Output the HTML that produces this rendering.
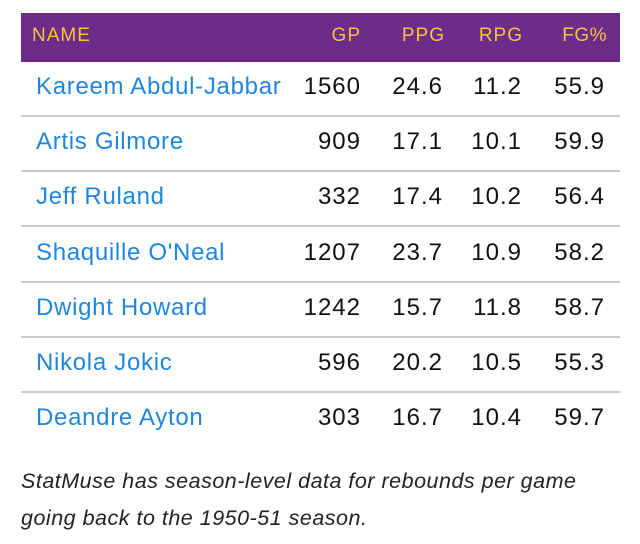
<!DOCTYPE html>
<html><head><style>
body{margin:0;width:640px;height:544px;background:#fff;font-family:"Liberation Sans",sans-serif;position:relative;overflow:hidden}
.hd{position:absolute;left:21px;top:13px;width:599px;height:49px;background:#6e2c8a}
.t{position:absolute;white-space:nowrap}
.h{color:#f5c242;font-size:19px;top:25px;letter-spacing:1px}
.r{font-size:24px;color:#111;letter-spacing:1px}
.n{color:#1f86e0;left:36px;letter-spacing:0.7px}
.line{position:absolute;left:21px;width:599px;height:2px;background:#ccc}
.cap{position:absolute;left:21px;font-style:italic;font-size:21.5px;color:#222;white-space:nowrap;letter-spacing:0.5px}
</style></head><body>
<div class="hd"></div>
<div class="t h" style="left:32px">NAME</div>
<div class="t h" style="right:279px">GP</div>
<div class="t h" style="right:195px">PPG</div>
<div class="t h" style="right:117px">RPG</div>
<div class="t h" style="right:33px;letter-spacing:0.5px">FG%</div>
<div id="rows"></div>
<script>
var d=[["Kareem Abdul-Jabbar","1560","24.6","11.2","55.9"],["Artis Gilmore","909","17.1","10.1","59.9"],["Jeff Ruland","332","17.4","10.2","56.4"],["Shaquille O'Neal","1207","23.7","10.9","58.2"],["Dwight Howard","1242","15.7","11.8","58.7"],["Nikola Jokic","596","20.2","10.5","55.3"],["Deandre Ayton","303","16.7","10.4","59.7"]];
var h="";d.forEach(function(r,i){var c=87+i*55.2,t=c-14;
h+='<div class="t r n" style="top:'+t+'px">'+r[0]+'</div>';
var rt=[279,197,118,35];for(var k=1;k<5;k++)h+='<div class="t r" style="top:'+t+'px;right:'+rt[k-1]+'px">'+r[k]+'</div>';
if(i<6)h+='<div class="line" style="top:'+(c+28)+'px"></div>';});
document.getElementById("rows").innerHTML=h;
</script>
<div class="cap" style="top:469px">StatMuse has season-level data for rebounds per game</div>
<div class="cap" style="top:506px">going back to the 1950-51 season.</div>
</body></html>
